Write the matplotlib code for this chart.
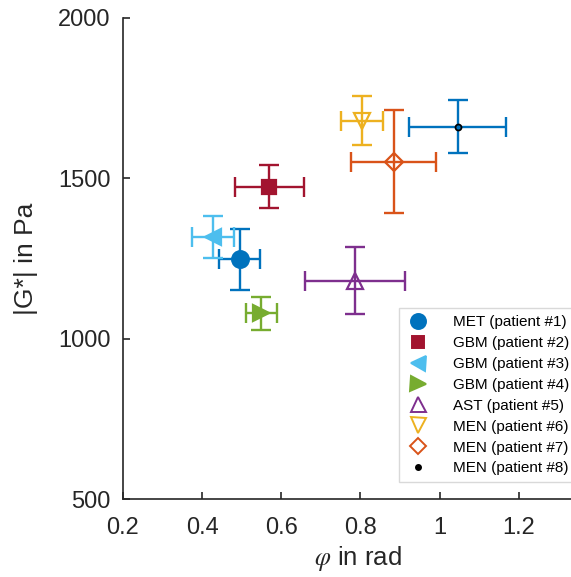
import matplotlib
matplotlib.use("Agg")
import matplotlib.pyplot as plt
from matplotlib.lines import Line2D

plt.rcParams["font.family"] = ["Liberation Sans", "DejaVu Sans"]
plt.rcParams["mathtext.fontset"] = "stix"

labels = ["MET (patient #1)", "GBM (patient #2)", "GBM (patient #3)",
          "GBM (patient #4)", "AST (patient #5)", "MEN (patient #6)",
          "MEN (patient #7)", "MEN (patient #8)"]
phi = [0.495, 0.570, 0.427, 0.550, 0.786, 0.803, 0.884, 1.046]
phi_err = [0.052, 0.087, 0.053, 0.040, 0.126, 0.053, 0.107, 0.122]
g = [1248, 1474, 1318, 1079, 1181, 1680, 1552, 1661]
g_err = [95, 67, 66, 51, 104, 77, 160, 82]

colors = ["#0072BD", "#A2142F", "#4DBEEE", "#77AC30", "#7E2F8E",
          "#EDB120", "#D95319", "#0072BD"]
markers = ["o", "s", "<", ">", "^", "v", "D", "o"]
filled = [True, True, True, True, False, False, False, False]
msizes = [12, 10, 12, 12, 12, 12, 9, 4]

fig = plt.figure(figsize=(5.71, 5.77), dpi=100)
ax = fig.add_axes([0.2154, 0.135, 0.79, 0.834])

handles = []
for i in range(len(labels)):
    col = colors[i]
    if i == 7:
        face, edge = "black", "black"
    elif filled[i]:
        face, edge = col, col
    else:
        face, edge = "none", col
    ax.errorbar(phi[i], g[i], xerr=phi_err[i], yerr=g_err[i], fmt="none",
                ecolor=col, elinewidth=1.7, capsize=7, capthick=1.7, zorder=2)
    ax.plot(phi[i], g[i], marker=markers[i], ms=msizes[i], mfc=face,
            mec=edge, mew=1.6, ls="none", zorder=3)
    if i == 7:
        ax.plot(phi[i], g[i], marker="o", ms=2, mfc=col, mec=col, ls="none", zorder=4)
    handles.append(Line2D([], [], marker=markers[i], ms=msizes[i] * 0.9,
                          mfc=face, mec=edge, mew=1.4, ls="none"))

ax.set_xlim(0.2, 1.34)
ax.set_ylim(500, 2000)
ax.set_xticks([0.2, 0.4, 0.6, 0.8, 1.0, 1.2])
ax.set_xticklabels(["0.2", "0.4", "0.6", "0.8", "1", "1.2"])
ax.set_yticks([500, 1000, 1500, 2000])

for s in ["top", "right"]:
    ax.spines[s].set_visible(False)
for s in ["left", "bottom"]:
    ax.spines[s].set_color("#262626")
    ax.spines[s].set_linewidth(1.2)
ax.tick_params(direction="in", length=5, width=1.2, colors="#262626",
               labelsize=17)
ax.tick_params(axis="x", pad=13)
ax.tick_params(axis="y", pad=9)

ax.set_xlabel(r"$\varphi$ in rad", fontsize=18.5, color="#262626")
ax.set_ylabel("|G*| in Pa", fontsize=19, color="#262626")
ax.xaxis.set_label_coords(0.52, -0.094)
ax.yaxis.set_label_coords(-0.188, 0.5)

leg = ax.legend(handles, labels, loc="lower left", bbox_to_anchor=(0.612, 0.035),
                borderaxespad=0, fontsize=11, frameon=True, fancybox=False,
                handletextpad=1.5, handlelength=1.6, labelspacing=0.45,
                borderpad=0.45)
leg.get_frame().set_edgecolor("#d0d0d0")
leg.get_frame().set_linewidth(1.0)

fig.savefig("out.png", dpi=100)
